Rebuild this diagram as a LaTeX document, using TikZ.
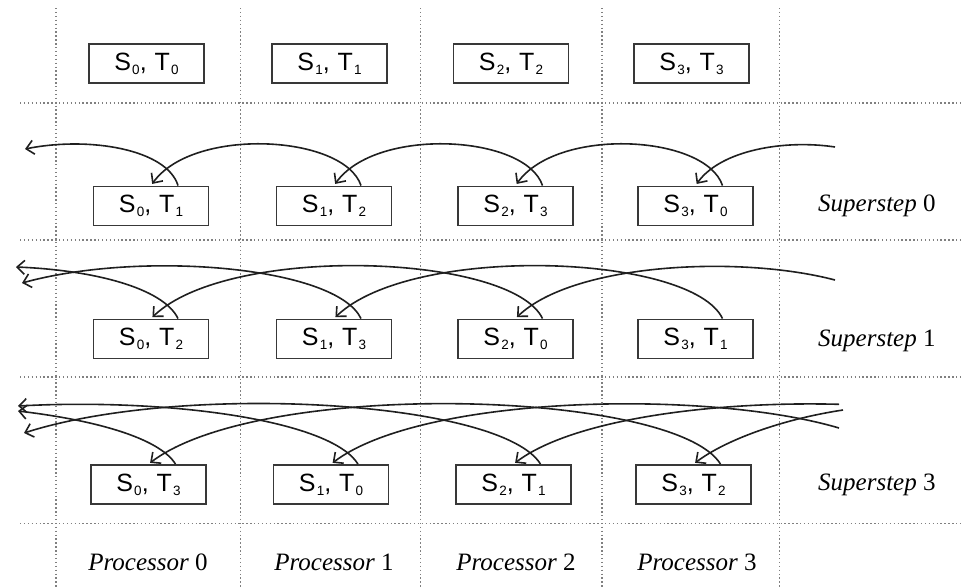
\documentclass[tikz,border=0pt]{standalone}
\usepackage{fontspec}
\setmainfont{Liberation Serif}
\newfontfamily\boxfont{Liberation Sans}
\usetikzlibrary{arrows.meta}
\newcommand{\lowsub}[1]{\kern1.2pt\raisebox{-3.8pt}{\fontsize{13.5}{13.5}\selectfont #1}}
\newcommand{\stpair}[2]{S\lowsub{#1}, \kern1pt T\lowsub{#2}}
\begin{document}
\begin{tikzpicture}[x=1pt,y=-1pt,
  grid/.style={draw=black!50, line width=1.4pt, dash pattern=on 1.4pt off 2.5pt},
  cell/.style={draw=black!78, line width=1.9pt, minimum width=115pt, minimum height=39pt, inner sep=0pt, font=\boxfont\fontsize{25}{30}\selectfont},
  msg/.style={draw=black!88, line width=1.6pt, -{Straight Barb[length=7.5pt,width=14pt]}, shorten >=2pt},
  lbl/.style={font=\fontsize{25}{30}\selectfont, inner sep=0pt}]
\useasboundingbox (0,0) rectangle (963,587);
% grid
\foreach \gx in {56,240.5,420.5,602,779.5} \draw[grid] (\gx,8) -- (\gx,587);
\foreach \gy in {103,240,377,523.5} \draw[grid] (20,\gy) -- (963,\gy);
% boxes
\node[cell] (a0) at (146.5,63.5) {\stpair{0}{0}};
\node[cell] (a1) at (329.5,63.5) {\stpair{1}{1}};
\node[cell] (a2) at (511,63.5) {\stpair{2}{2}};
\node[cell] (a3) at (691.5,63.5) {\stpair{3}{3}};
\node[cell] (b0) at (151,206) {\stpair{0}{1}};
\node[cell] (b1) at (334,206) {\stpair{1}{2}};
\node[cell] (b2) at (515.5,206) {\stpair{2}{3}};
\node[cell] (b3) at (695.5,206) {\stpair{3}{0}};
\node[cell] (c0) at (151,339) {\stpair{0}{2}};
\node[cell] (c1) at (334,339) {\stpair{1}{3}};
\node[cell] (c2) at (515.5,339) {\stpair{2}{0}};
\node[cell] (c3) at (695.5,339) {\stpair{3}{1}};
\node[cell] (d0) at (148.5,484.5) {\stpair{0}{3}};
\node[cell] (d1) at (331,484.5) {\stpair{1}{0}};
\node[cell] (d2) at (513.5,484.5) {\stpair{2}{1}};
\node[cell] (d3) at (693.5,484.5) {\stpair{3}{2}};
% labels
\node[lbl, anchor=base west] (ss0) at (818,211) {\textit{Superstep} 0};
\node[lbl, anchor=base west] (ss1) at (818,346.5) {\textit{Superstep} 1};
\node[lbl, anchor=base west] (ss3) at (818,490) {\textit{Superstep} 3};
\node[lbl, anchor=base] (p0) at (148,570) {\textit{Processor} 0};
\node[lbl, anchor=base] (p1) at (334,570) {\textit{Processor} 1};
\node[lbl, anchor=base] (p2) at (516,570) {\textit{Processor} 2};
\node[lbl, anchor=base] (p3) at (697,570) {\textit{Processor} 3};
% free ends
\coordinate (r1) at (835,147);
\coordinate (l1) at (25,149);
\coordinate (r2) at (835,280);
\coordinate (l2a) at (16,267);
\coordinate (l2b) at (22,283);
\coordinate (r3a) at (839,428);
\coordinate (r3b) at (839,404.3);
\coordinate (r3c) at (843,410);
\coordinate (l3a) at (24,433);
\coordinate (l3b) at (18,406);
\coordinate (l3c) at (18,411);
% superstep 0
\draw[msg] (r1) .. controls +(-50.6,-7.7) and +(25.2,-35.4) .. (b3.north);
\draw[msg] ([xshift=27pt]b3.north) .. controls +(-17,-51) and +(42,-59) .. (b2.north);
\draw[msg] ([xshift=27pt]b2.north) .. controls +(-17,-51) and +(42,-59) .. (b1.north);
\draw[msg] ([xshift=27pt]b1.north) .. controls +(-17,-51) and +(42,-59) .. (b0.north);
\draw[msg, shorten >=0pt] ([xshift=27pt]b0.north) .. controls +(-11,-36) and +(65,-13) .. (l1);
% superstep 1
\draw[msg] (r2) .. controls +(-96.5,-25.3) and +(57.3,-55.1) .. (c2.north);
\draw[msg] ([xshift=27pt]c3.north) .. controls +(-31,-65) and +(78,-75) .. (c1.north);
\draw[msg] ([xshift=27pt]c2.north) .. controls +(-31,-65) and +(78,-75) .. (c0.north);
\draw[msg, shorten >=0pt] ([xshift=27pt]c1.north) .. controls +(-24.8,-52) and +(120,-33) .. (l2b);
\draw[msg, shorten >=0pt] ([xshift=27pt]c0.north) .. controls +(-14.6,-30.5) and +(77.8,3.1) .. (l2a);
% superstep 3
\draw[msg] (r3a) .. controls +(-131.6,-38.9) and +(91.8,-69.2) .. (d1.north);
\draw[msg] (r3b) .. controls +(-126.6,-3.3) and +(59.3,-44.7) .. (d2.north);
\draw[msg] (r3c) .. controls +(-62.6,9.5) and +(31.4,-23.6) .. (d3.north);
\draw[msg] ([xshift=27pt]d3.north) .. controls +(-46,-74) and +(114,-86) .. (d0.north);
\draw[msg, shorten >=0pt] ([xshift=27pt]d2.north) .. controls +(-39.6,-63.6) and +(159.1,-50.9) .. (l3a);
\draw[msg, shorten >=0pt] ([xshift=27pt]d1.north) .. controls +(-27.6,-44.4) and +(148.3,-8) .. (l3b);
\draw[msg, shorten >=0pt] ([xshift=27pt]d0.north) .. controls +(-16.1,-25.9) and +(77.8,9.2) .. (l3c);
\end{tikzpicture}
\end{document}
